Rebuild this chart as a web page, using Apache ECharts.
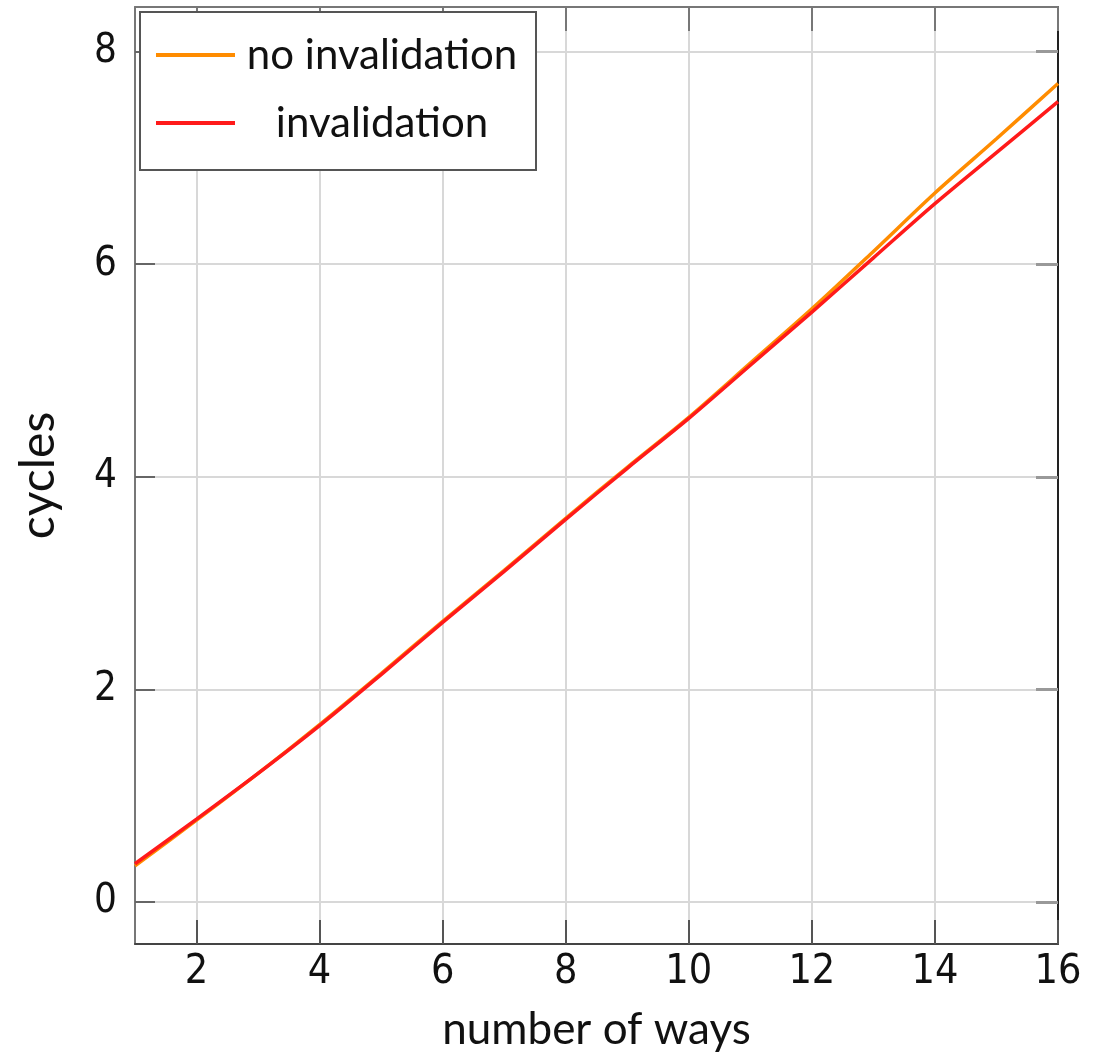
<!DOCTYPE html>
<html>
<head>
<meta charset="utf-8">
<script src="https://cdn.jsdelivr.net/npm/echarts@6/dist/echarts.min.js"></script>
<style>
html,body{margin:0;padding:0;background:#fff;}
#chart{width:1107px;height:1057px;}
</style>
</head>
<body>
<div id="chart"></div>
<script>
const ways = [1,2,3,4,5,6,7,8,9,10,11,12,13,14,15,16];
const noInvalidation = [0.34,0.77,1.21,1.67,2.15,2.64,3.12,3.61,4.09,4.56,5.07,5.58,6.12,6.67,7.18,7.70];
const invalidation   = [0.36,0.78,1.21,1.66,2.14,2.63,3.11,3.60,4.08,4.55,5.05,5.55,6.06,6.57,7.05,7.53];
const xTicks = [2,4,6,8,10,12,14,16];
const yTicks = [0,2,4,6,8];
const seriesNames = ['no invalidation','invalidation'];

const tickFont = '"Liberation Sans Narrow","DejaVu Sans Condensed","Roboto Condensed",Lato,sans-serif';
const textFont = 'Lato, "Open Sans", sans-serif';

const chart = echarts.init(document.getElementById('chart'));
const gridCol = '#d8d8d8';
chart.setOption({
  animation:false,
  backgroundColor:'#fff',
  grid:{left:135,right:49,top:7,bottom:112,containLabel:false},
  legend:{
    left:140, top:12, orient:'vertical',
    data:seriesNames,
    icon:'rect', itemWidth:79, itemHeight:4, itemGap:26,
    padding:[22,12,26,16],
    borderColor:'#555', borderWidth:2, backgroundColor:'#fff',
    formatter:'{a|{name}}',
    textStyle:{
      rich:{a:{width:284,align:'center',fontSize:42,lineHeight:42,fontFamily:textFont,color:'#111'}}
    }
  },
  xAxis:[{
    type:'value', min:1, max:16, position:'bottom',
    name:'number of ways', nameLocation:'middle', nameGap:64,
    nameTextStyle:{fontSize:44,fontFamily:textFont,color:'#111'},
    axisLine:{show:true,onZero:false,lineStyle:{color:'#444',width:2}},
    axisTick:{show:true,inside:true,length:24,customValues:xTicks,lineStyle:{color:'#555',width:2}},
    axisLabel:{customValues:xTicks,fontSize:41,fontFamily:tickFont,color:'#111',margin:8},
    splitLine:{show:true,lineStyle:{color:gridCol,width:2}}
  },{
    type:'value', min:1, max:16, position:'top',
    axisLine:{show:true,onZero:false,lineStyle:{color:'#777',width:2}},
    axisTick:{show:true,inside:true,length:24,customValues:xTicks,lineStyle:{color:'#777',width:2}},
    axisLabel:{show:false}, splitLine:{show:false}
  }],
  yAxis:[{
    type:'value', min:-0.395, max:8.42, position:'left',
    name:'cycles', nameLocation:'middle', nameGap:72,
    nameTextStyle:{fontSize:48,fontFamily:textFont,color:'#111'},
    axisLine:{show:true,onZero:false,lineStyle:{color:'#777',width:2}},
    axisTick:{show:true,inside:true,length:20,customValues:yTicks,lineStyle:{color:'#666',width:2}},
    axisLabel:{customValues:yTicks,fontSize:40,fontFamily:tickFont,color:'#111',margin:18,padding:[0,0,14,0]},
    splitLine:{show:true,lineStyle:{color:gridCol,width:2}}
  },{
    type:'value', min:-0.395, max:8.42, position:'right',
    axisLine:{show:true,onZero:false,lineStyle:{color:'#222',width:2}},
    axisTick:{show:true,inside:true,length:22,customValues:yTicks,lineStyle:{color:'#999',width:3}},
    axisLabel:{show:false}, splitLine:{show:false}
  }],
  series:[{
    name:seriesNames[0], type:'line', smooth:0.3, showSymbol:false,
    color:'#ff8c00', lineStyle:{width:3.5,color:'#ff8c00'},
    data:ways.map((w,i)=>[w,noInvalidation[i]])
  },{
    name:seriesNames[1], type:'line', smooth:0.3, showSymbol:false,
    color:'#ff1a1a', lineStyle:{width:3.5,color:'#ff1a1a'},
    data:ways.map((w,i)=>[w,invalidation[i]])
  }]
});
</script>
</body>
</html>
